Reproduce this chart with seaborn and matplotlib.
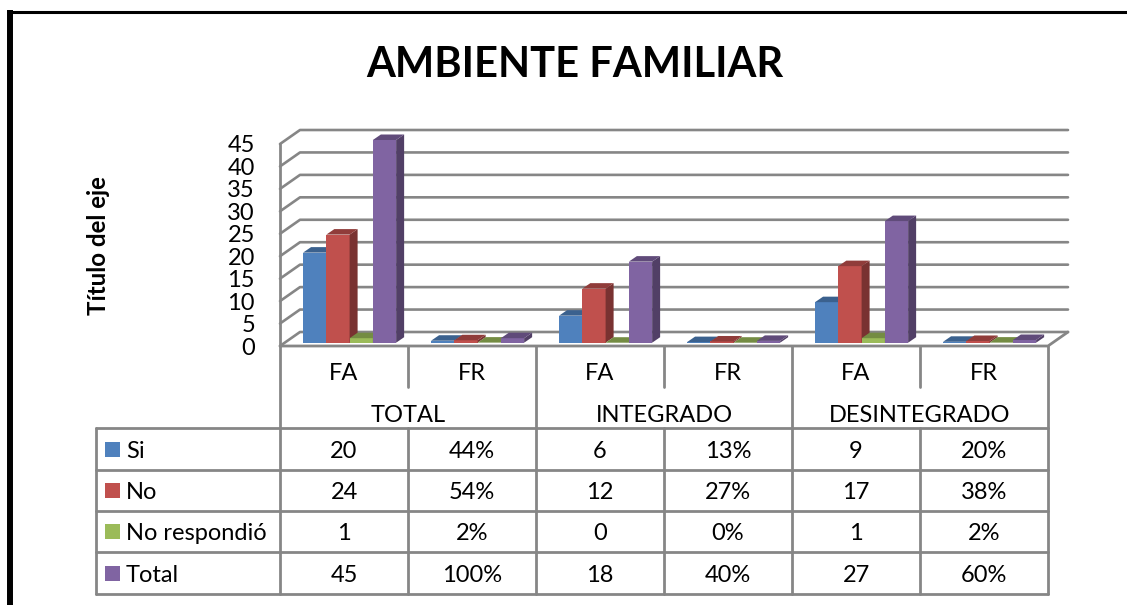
import matplotlib
matplotlib.use("Agg")
import matplotlib.pyplot as plt
from matplotlib.colors import to_rgb
from matplotlib.patches import Polygon, Rectangle
import pandas as pd
import seaborn as sns

# data
groups = ["TOTAL", "INTEGRADO", "DESINTEGRADO"]
columns = ["FA", "FR", "FA", "FR", "FA", "FR"]
series = ["Si", "No", "No respondió", "Total"]
si = [20, 0.44, 6, 0.13, 9, 0.20]
no = [24, 0.54, 12, 0.27, 17, 0.38]
no_resp = [1, 0.02, 0, 0, 1, 0.02]
total = [45, 1.00, 18, 0.40, 27, 0.60]
y_ticks = [0, 5, 10, 15, 20, 25, 30, 35, 40, 45]
colors = ["#4F81BD", "#C0504D", "#9BBB59", "#8064A2"]

W, H = 1127, 605
GRAY = "#868686"
TEXT_SIZE = 17


def cell_text(value, col):
    if col == "FA":
        return str(value)
    return f"{round(value * 100)}%"


def darker(color, factor):
    return tuple(c * factor for c in to_rgb(color))


def axes_rect(left, top, right, bottom):
    return [left / W, 1 - bottom / H, (right - left) / W, (bottom - top) / H]


sns.set_theme(style="white")
plt.rcParams["font.family"] = ["Lato", "DejaVu Sans"]

rows = [si, no, no_resp, total]
keys = [f"{i}{c}" for i, c in enumerate(columns)]
df = pd.DataFrame({
    "col": [k for _ in series for k in keys],
    "serie": [s for s in series for _ in keys],
    "valor": [v for r in rows for v in r],
})

fig = plt.figure(figsize=(W / 100, H / 100), dpi=100, facecolor="white")

# whole figure in pixels, for the frame, the walls and the data table
bg = fig.add_axes([0, 0, 1, 1], zorder=0)
bg.set_xlim(0, W)
bg.set_ylim(H, 0)
bg.axis("off")

# black frame: the left side is thicker than the top
bg.plot([10, 10], [H, 10], color="black", lw=4.3, solid_capstyle="butt")
bg.plot([7, W], [11.5, 11.5], color="black", lw=2.2, solid_capstyle="butt")

# walls and gridlines
front_l, front_r, front_0, front_45 = 280, 1048, 346, 144
dx, dy = 20, -14
for t in y_ticks:
    y = front_0 + (front_45 - front_0) * t / max(y_ticks)
    bg.plot([front_l, front_l + dx, front_r + dx], [y, y + dy, y + dy], color=GRAY, lw=1.9)
bg.plot([front_l, front_l], [front_45, front_0], color=GRAY, lw=2)
bg.plot([front_l, front_r, front_r + dx], [front_0, front_0, front_0 + dy], color=GRAY, lw=2)

# y axis labels
ax_front = fig.add_axes(axes_rect(front_l, front_45, front_r, front_0), zorder=1)
ax_front.patch.set_alpha(0)
ax_front.set_ylim(0, max(y_ticks))
ax_front.set_xticks([])
ax_front.set_yticks(y_ticks)
ax_front.tick_params(axis="y", length=0, pad=18, labelsize=TEXT_SIZE, labelcolor="black")
sns.despine(ax=ax_front, left=True, bottom=True)
ax_front.set_ylabel("Título del eje", fontsize=17.4, fontweight="bold", color="black", va="center")
ax_front.yaxis.set_label_coords((99 - front_l) / (front_r - front_l), 0.495)

# bars
ax = fig.add_axes(axes_rect(285.6, 140, 1053.6, 342.7), zorder=2)
ax.patch.set_alpha(0)
sns.barplot(data=df, x="col", y="valor", hue="serie", order=keys, hue_order=series,
            palette=colors, saturation=1, width=0.727, legend=False, ax=ax, linewidth=0)
ax.set_xlim(-0.5, 5.5)
ax.set_ylim(0, max(y_ticks))

# fake 3D sides, built from the bars seaborn drew
depth_x = 8 / 128
depth_y = 5.5 * max(y_ticks) / 202.7
bars = []
for container, color in zip(ax.containers, colors):
    for bar in container:
        bars.append((bar, color))
bars.sort(key=lambda b: b[0].get_x())
for n, (bar, color) in enumerate(bars):
    x0, x1 = bar.get_x(), bar.get_x() + bar.get_width()
    top = bar.get_height()
    z = 3 + n
    bar.set_zorder(z)
    bar.set_clip_on(False)
    ax.add_patch(Polygon([(x1, 0), (x1 + depth_x, depth_y), (x1 + depth_x, top + depth_y), (x1, top)],
                         closed=True, fc=darker(color, 0.63), ec="none", zorder=z, clip_on=False))
    ax.add_patch(Polygon([(x0, top), (x0 + depth_x, top + depth_y), (x1 + depth_x, top + depth_y), (x1, top)],
                         closed=True, fc=darker(color, 0.75), ec="none", zorder=z, clip_on=False))
ax.axis("off")

# data table
col_x = [front_l + 128 * i for i in range(len(columns) + 1)]
row_y = [428, 470, 511, 552, 594]
legend_l = 96
for y in row_y:
    bg.plot([legend_l, front_r], [y, y], color=GRAY, lw=2)
bg.plot([legend_l, legend_l], [row_y[0], row_y[-1]], color=GRAY, lw=2)
for i, x in enumerate(col_x):
    if i % 2 == 0:
        bg.plot([x, x], [front_0, row_y[-1]], color=GRAY, lw=2)
    else:
        bg.plot([x, x], [front_0, 387], color=GRAY, lw=2)
        bg.plot([x, x], [row_y[0], row_y[-1]], color=GRAY, lw=2)

for i, col in enumerate(columns):
    bg.text((col_x[i] + col_x[i + 1]) / 2, 374, col, ha="center", va="center", fontsize=TEXT_SIZE, color="black")
for i, group in enumerate(groups):
    bg.text(col_x[2 * i + 1], 415, group, ha="center", va="center", fontsize=TEXT_SIZE, color="black")
for r, (name, values, color) in enumerate(zip(series, rows, colors)):
    yc = (row_y[r] + row_y[r + 1]) / 2
    bg.add_patch(Rectangle((105, yc - 7.5), 15, 15, fc=color, ec="none"))
    bg.text(126, yc + 2, name, ha="left", va="center", fontsize=TEXT_SIZE, color="black")
    for i, (v, col) in enumerate(zip(values, columns)):
        bg.text((col_x[i] + col_x[i + 1]) / 2, yc + 2, cell_text(v, col), ha="center", va="center",
                fontsize=TEXT_SIZE, color="black")

bg.text(575, 65, "AMBIENTE FAMILIAR", ha="center", va="center", fontsize=30, fontweight="bold", color="black")

fig.savefig("out.png", dpi=100)
